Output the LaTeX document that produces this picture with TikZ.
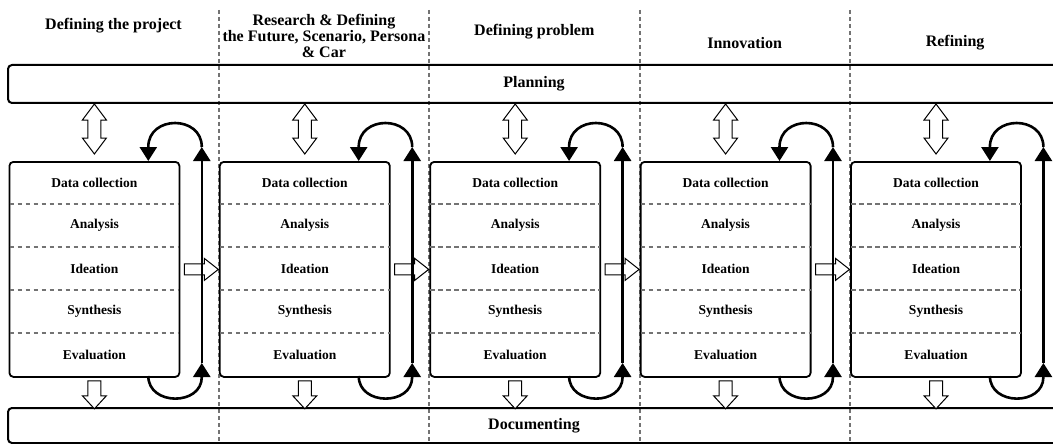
\documentclass[tikz,border=0pt]{standalone}
\usepackage{fontspec}
\setmainfont{Liberation Serif}
\usetikzlibrary{arrows.meta,calc}
\begin{document}
\begin{tikzpicture}[x=1pt,y=-1pt,
  stagebox/.style={draw, line width=1.8pt, rounded corners=4pt, minimum width=170pt,
    minimum height=215pt, inner sep=0pt, anchor=north west},
  bar/.style={draw, line width=2pt, rounded corners=4pt, minimum width=1052pt,
    inner sep=0pt, font=\bfseries\fontsize{16}{16}\selectfont},
  head/.style={font=\bfseries\fontsize{16}{16}\selectfont, align=center, inner sep=0pt},
  rowlabel/.style={font=\bfseries\fontsize{13.5}{14}\selectfont, inner sep=0pt},
  sep/.style={draw=black!55, line width=1.6pt, dash pattern=on 4.5pt off 3.5pt},
  colline/.style={draw=black!55, line width=1.7pt, dash pattern=on 4pt off 3pt},
  hollow/.style={draw, fill=white, line width=1pt, line join=miter},
  loop/.style={line width=2.6pt, -{Triangle[width=17pt,length=14pt]}},
]
\useasboundingbox (0,0) rectangle (1053,444);

% column separators
\foreach \i in {1,...,4} {
  \pgfmathsetmacro\xl{8.5+210.4*\i}
  \draw[colline] (\xl,10) -- (\xl,444);
}

% planning and documenting bars
\node[bar, minimum height=38pt] (plan) at (534,84) {Planning};
\node[bar, minimum height=35pt] (doc) at (534,425.5) {Documenting};

% phase titles
\node[head] (h0) at (113.5,26) {Defining the project};
\node[head] (h1) at (323.9,36) {Research \& Defining\\the Future, Scenario, Persona\\\& Car};
\node[head] (h2) at (534.3,32) {Defining problem};
\node[head] (h3) at (744.7,43) {Innovation};
\node[head] (h4) at (955.1,43) {Refining};

% one process box per phase
\foreach \i in {0,...,4} {
  \pgfmathsetmacro\xl{8.5+210.4*\i}
  \node[stagebox] (b\i) at (\xl,161) {};
  \foreach \r in {1,...,4}
    \draw[sep] ($(b\i.north west)+(1,43*\r)$) -- ($(b\i.north east)+(-1,43*\r)$);
  \foreach \r/\t in {0/Data collection,1/Analysis,2/Ideation,3/Synthesis,4/Evaluation}
    \node[rowlabel] (b\i-r\r) at ($(b\i.north)+(0,21.5+43*\r)$) {\t};
  % exchange with planning
  \begin{scope}[shift={(b\i.north)}]
    \draw[hollow] (0,-57) -- (12,-41) -- (6.5,-41) -- (6.5,-23) -- (12,-23) -- (0,-7)
      -- (-12,-23) -- (-6.5,-23) -- (-6.5,-41) -- (-12,-41) -- cycle;
  \end{scope}
  % output to documenting
  \begin{scope}[shift={(b\i.south)}]
    \draw[hollow] (-6.5,3) -- (6.5,3) -- (6.5,18) -- (12,18) -- (0,31) -- (-12,18)
      -- (-6.5,18) -- cycle;
  \end{scope}
}

% hand-over to the next phase
\foreach \i in {0,...,3} {
  \begin{scope}[shift={(b\i.east)}]
    \draw[hollow] (4,-5.5) -- (24,-5.5) -- (24,-11) -- (38,0) -- (24,11) -- (24,5.5)
      -- (4,5.5) -- cycle;
  \end{scope}
}

% iteration loops
\foreach \i in {0,...,4} {
  \begin{scope}[shift={(b\i.north east)}]
    \draw[loop] (-32,215) .. controls (-32,245) and (21.5,245) .. (21.5,216) -- (21.5,202);
    \draw[loop] (21.5,202) -- (21.5,-14);
    \draw[loop] (21.5,-14) .. controls (21.5,-46) and (-32,-46) .. (-32,-14) -- (-32,0);
  \end{scope}
}
\end{tikzpicture}
\end{document}
